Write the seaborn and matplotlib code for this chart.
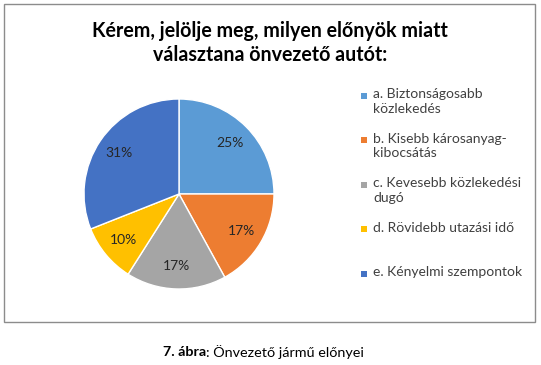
import matplotlib
matplotlib.use("Agg")
import matplotlib.pyplot as plt
from matplotlib.patches import Rectangle
import seaborn as sns

# data
labels = [
    "a. Biztonságosabb\nközlekedés",
    "b. Kisebb károsanyag-\nkibocsátás",
    "c. Kevesebb közlekedési\ndugó",
    "d. Rövidebb utazási idő",
    "e. Kényelmi szempontok",
]
shares = [25, 17, 17, 10, 31]
colors = ["#5B9BD5", "#ED7D31", "#A5A5A5", "#FFC000", "#4472C4"]

title = "Kérem, jelölje meg, milyen előnyök miatt\nválasztana önvezető autót:"
caption_bold = "7. ábra"
caption_rest = ": Önvezető jármű előnyei"

sns.set_theme(style="white")
plt.rcParams["font.family"] = ["Lato", "DejaVu Sans"]

W, H = 541, 365
fig = plt.figure(figsize=(W / 100, H / 100), dpi=100)
fig.patch.set_facecolor("white")

# chart frame
fig.add_artist(Rectangle((4 / W, 1 - 322 / H), 531 / W, 318 / H,
                         transform=fig.transFigure, fill=False,
                         edgecolor="#8c8c8c", linewidth=1))

# pie
ax = fig.add_axes([(179 - 95) / W, (H - 194 - 95) / H, 190 / W, 190 / H])
palette = sns.color_palette(colors)
wedges, _, autotexts = ax.pie(
    shares, colors=palette, startangle=90, counterclock=False,
    autopct="%1.0f%%", pctdistance=0.76,
    wedgeprops=dict(edgecolor="white", linewidth=1),
    textprops=dict(fontsize=10, color="#262626"))
ax.set_xlim(-1, 1)
ax.set_ylim(-1, 1)
ax.axis("off")

# title
fig.text(270 / W, 1 - 43 / H, title, ha="center", va="center",
         fontsize=14.1, fontweight="bold", color="black", linespacing=1.25)

# legend (marker at first line, as in the original)
y0, step = 96, 44.4
for i, (lab, col) in enumerate(zip(labels, colors)):
    y = y0 + i * step
    fig.add_artist(Rectangle((361 / W, 1 - (y + 3) / H), 6 / W, 6 / H,
                             transform=fig.transFigure, facecolor=col,
                             edgecolor="none"))
    fig.text(373 / W, 1 - (y - 7.5) / H, lab, ha="left", va="top",
             fontsize=10, color="#404040", linespacing=1.25)

# caption
fig.text(206 / W, 1 - 352 / H, caption_bold, ha="right", va="center",
         fontsize=10.4, fontweight="bold", color="black")
fig.text(206 / W, 1 - 352 / H, caption_rest, ha="left", va="center",
         fontsize=10.4, color="black")

fig.savefig("out.png", dpi=100, facecolor="white")
